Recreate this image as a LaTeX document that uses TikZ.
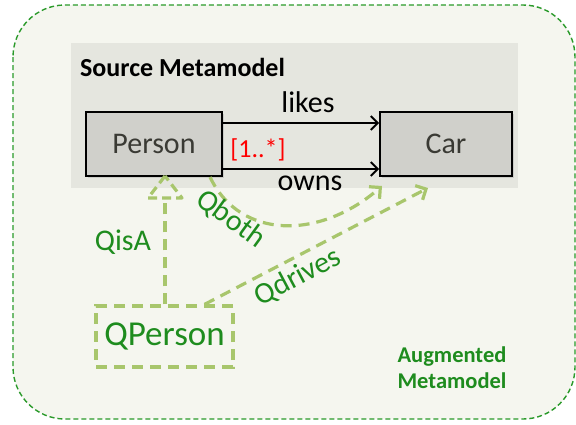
\documentclass[tikz,border=0pt]{standalone}
\usepackage{fontspec}
\setmainfont{Carlito}
\usetikzlibrary{arrows.meta,shadows}
\definecolor{outerfill}{HTML}{F5F6EF}
\definecolor{srcfill}{HTML}{E5E6DF}
\definecolor{boxfill}{HTML}{D0D0CB}
\definecolor{boxtext}{HTML}{3A3A34}
\definecolor{qgreen}{HTML}{1E8C1E}
\definecolor{qlight}{HTML}{A8C66C}
\definecolor{rimgreen}{HTML}{2A9A2A}
\tikzset{
  px/.style={x=1pt,y=-1pt},
  classbox/.style={draw=black,line width=1.6pt,fill=boxfill,minimum width=136pt,minimum height=64pt,
    inner sep=0pt,text=boxtext,font=\fontsize{30}{34}\selectfont,
    drop shadow={shadow xshift=2pt,shadow yshift=-2pt,opacity=0.25}},
  assoc/.style={draw=black,line width=2pt,-{Straight Barb[length=7pt,width=14pt,line width=2pt]}},
  qline/.style={draw=qlight,line width=3.2pt,dash pattern=on 11pt off 7pt},
  qarrow/.style={qline,-{Straight Barb[length=8pt,width=16pt,line width=3.2pt]}},
  lbl/.style={font=\fontsize{30}{34}\selectfont,inner sep=0pt},
  qlbl/.style={lbl,text=qgreen},
}
\begin{document}
\begin{tikzpicture}[px]
\useasboundingbox (0,0) rectangle (576,424);
\fill[white] (0,0) rectangle (576,424);
% augmented metamodel frame
\draw[rimgreen,line width=1.4pt,dash pattern=on 5pt off 3pt,fill=outerfill,rounded corners=52pt]
  (13,5) rectangle (575,419);
% source metamodel panel
\fill[srcfill] (71,43) rectangle (518,188);
\node[anchor=west,inner sep=0pt,font=\fontsize{26}{30}\selectfont\bfseries] (src) at (80,67) {Source Metamodel};
% classes
\node[classbox] (person) at (154,144) {Person};
\node[classbox,minimum width=132pt] (car) at (446,144) {Car};
% associations
\draw[assoc] ([yshift=21pt]person.east) -- ([yshift=21pt]car.west);
\draw[assoc] ([yshift=-25pt]person.east) -- ([yshift=-25pt]car.west);
\node[lbl] (likes) at (308,102) {likes};
\node[lbl] (owns) at (310,183) {owns};
\node[lbl,text=red,font=\fontsize{26}{30}\selectfont] (mult) at (258,150) {[1..*]};
% query class
\node[qline,minimum width=137pt,minimum height=61pt,inner sep=0pt,text=qgreen,
  font=\fontsize{35}{40}\selectfont] (qperson) at (164.5,336.5) {QPerson};
% QisA generalisation
\coordinate (isatip) at (165,176);
\coordinate (isabase) at (165,198);
\draw[qline] (qperson.north -| isatip) -- (isabase);
\draw[qline,dash pattern=on 9pt off 5pt,line join=round] (isatip) -- (148,198) -- (182,198) -- cycle;
\node[qlbl] (qisa) at (123,242) {QisA};
% Qboth
\coordinate (bothstart) at (210,177);
\coordinate (bothend) at (382,186);
\draw[qarrow] (bothstart) .. controls (240,240) and (320,240) .. (bothend);
\node[qlbl,rotate=-36] (qboth) at (231,219) {Qboth};
% Qdrives
\coordinate (drivesend) at (428,188);
\draw[qarrow] ([xshift=40pt]qperson.north) -- (drivesend);
\node[qlbl,rotate=28] (qdrives) at (298,277) {Qdrives};
% frame caption
\node[align=center,text=qgreen,font=\fontsize{22.5}{26}\selectfont\bfseries,inner sep=0pt] (aug) at (452,368)
  {Augmented\\Metamodel};
\end{tikzpicture}
\end{document}
